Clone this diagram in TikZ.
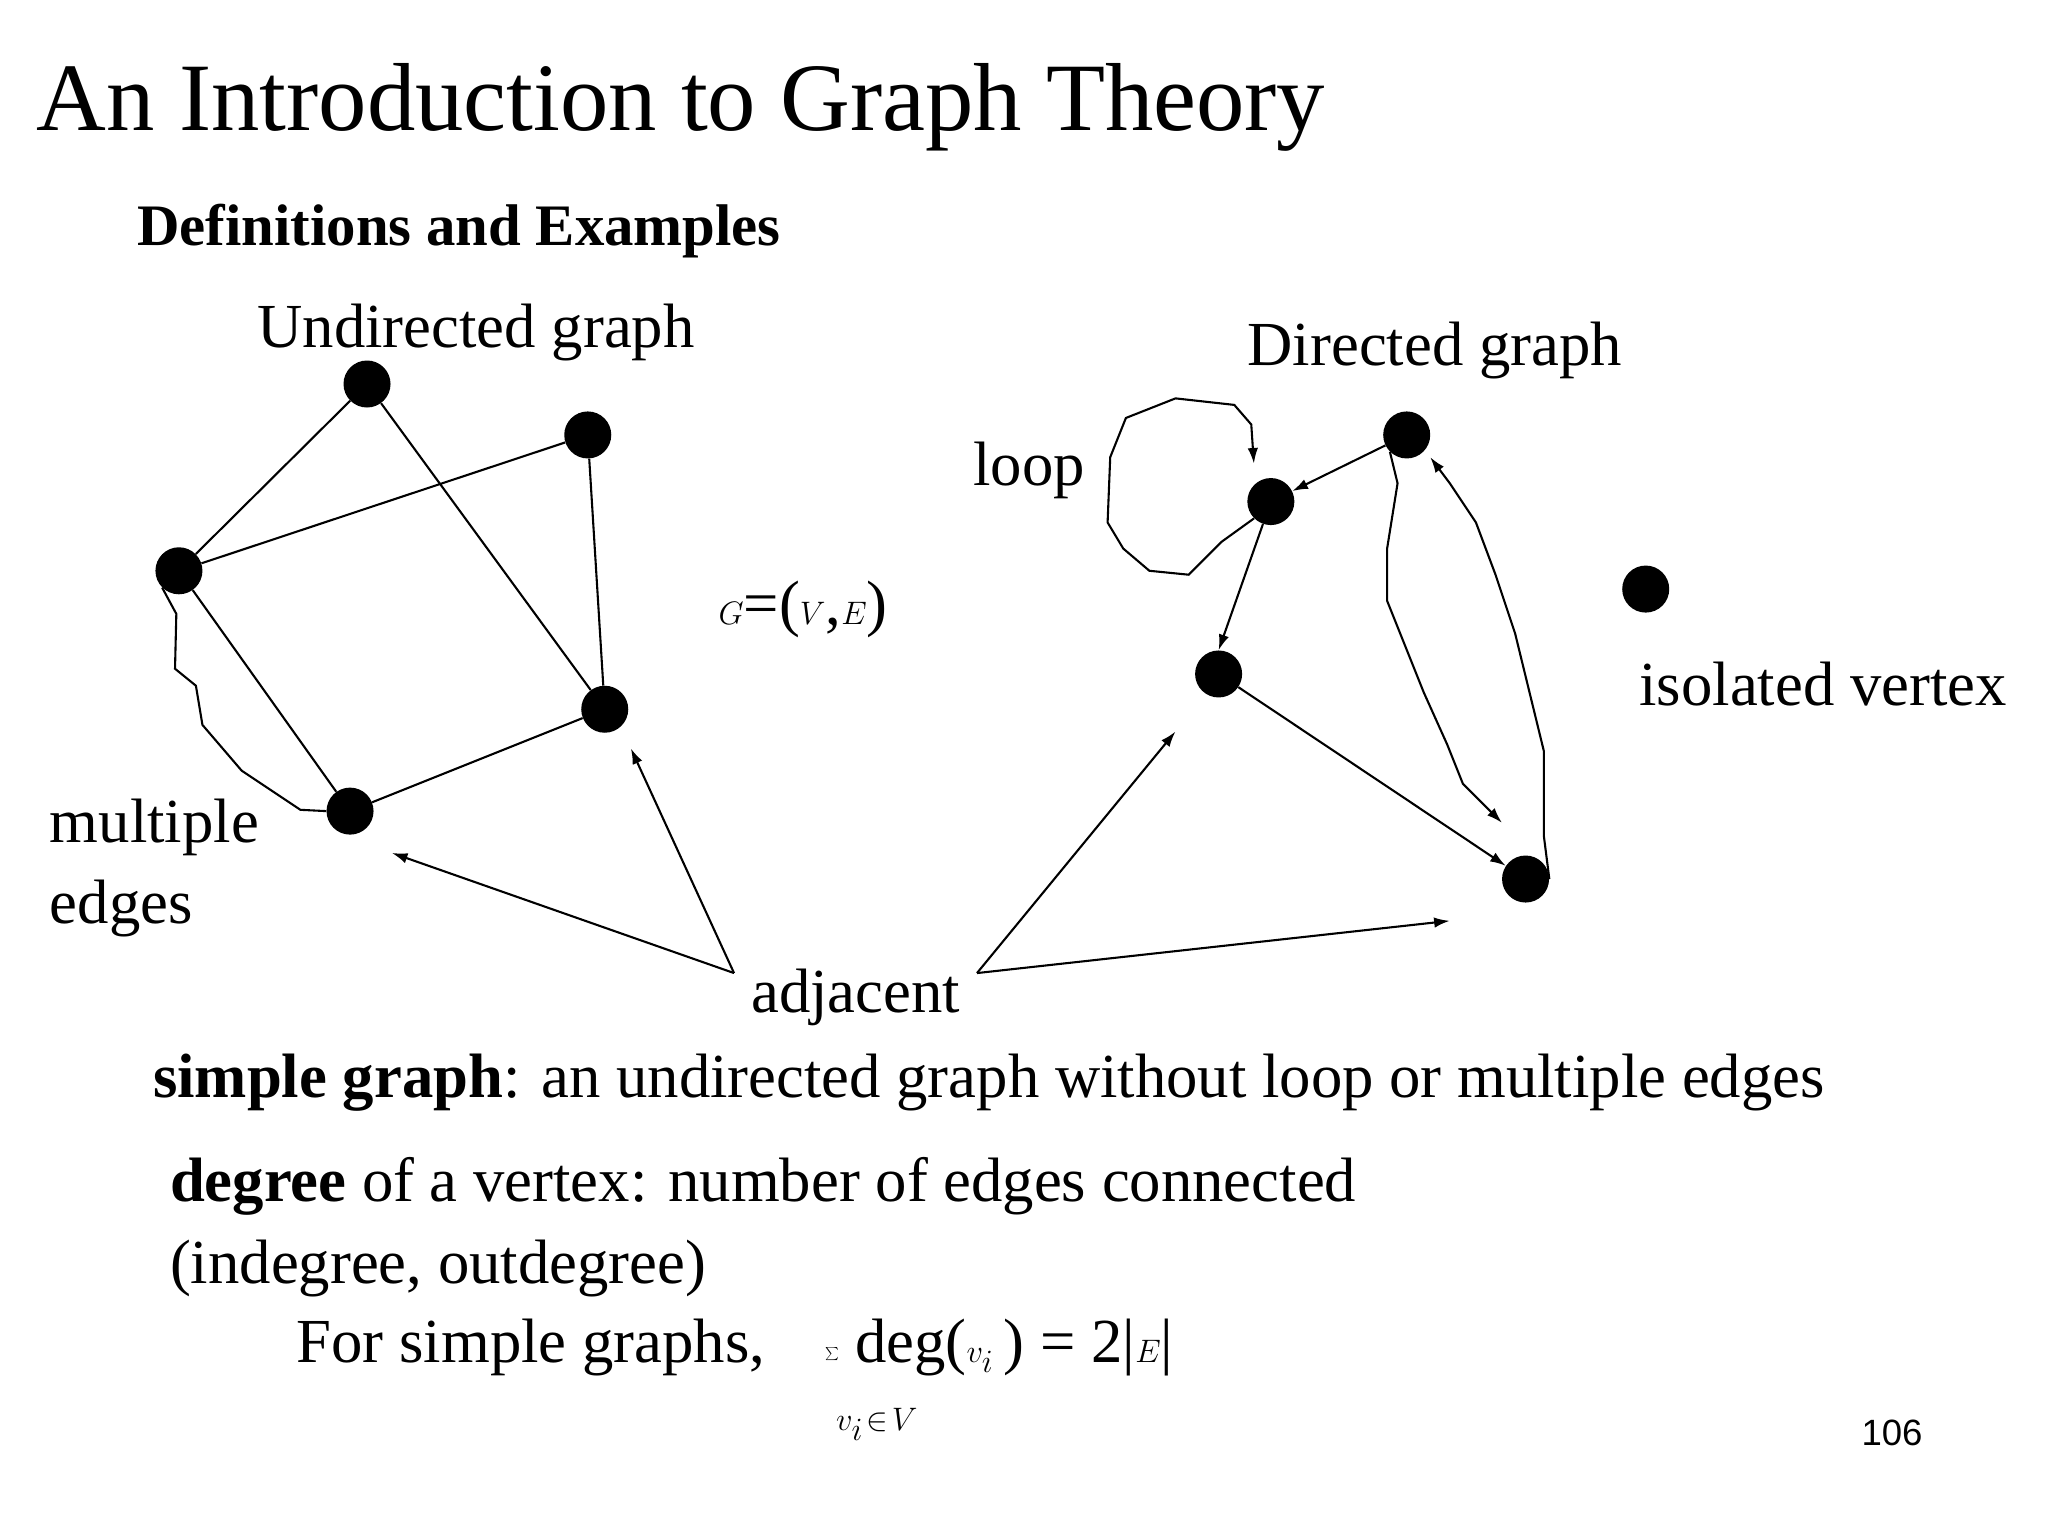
\documentclass[tikz,border=0pt]{standalone}
\usepackage{fontspec}
\setmainfont{Liberation Serif}
\newfontfamily\sansf{Liberation Sans}
\usetikzlibrary{arrows.meta}
\begin{document}
\begin{tikzpicture}[x=1pt,y=-1pt,
  v/.style={circle,fill=black,minimum size=36pt,inner sep=0pt},
  txt/.style={anchor=base west,inner sep=0pt,font=\fontsize{48}{58}\selectfont},
  e/.style={line width=1.6pt},
  a/.style={line width=1.6pt,-{Latex[length=12pt,width=8pt]}}]
\useasboundingbox (0,0) rectangle (1568,1176);
\node[txt,font=\fontsize{74}{80}\selectfont] (title) at (28,100) {An Introduction to Graph Theory};
\node[txt,font=\fontsize{45}{50}\selectfont\bfseries] (defs) at (105,188) {Definitions and Examples};
\node[txt] (ug) at (197,266) {Undirected graph};
\node[txt] (dg) at (955,280) {Directed graph};
\node[txt] (loop) at (745,372) {loop};
\node[txt] (gve) at (550,478) {$G$=($V$,$E$)};
\node[txt] (iso) at (1255,540) {isolated vertex};
\node[txt] (mul) at (38,645) {multiple};
\node[txt] (edg) at (38,707) {edges};
\node[txt] (adj) at (575,775) {adjacent};
\node[txt] (simple) at (117,840) {\textbf{simple graph}: an undirected graph without loop or multiple edges};
\node[txt] (deg) at (130,920) {\textbf{degree} of a vertex: number of edges connected};
\node[txt] (indeg) at (130,983) {(indegree, outdegree)};
\node[txt] (forsim) at (227,1043) {For simple graphs,};
\node[anchor=base west,inner sep=0pt,font=\fontsize{48}{58}\selectfont] (form) at (632,1043) {$\textstyle\sum$ deg($v_i$\,) = 2|$E$|};
\node[anchor=base west,inner sep=0pt,font=\fontsize{34}{40}\selectfont] (sub) at (640,1095) {$v_i\!\in\! V$};
\node[anchor=base west,inner sep=0pt,font=\fontsize{28}{32}\selectfont\sansf] (pg) at (1425,1107) {106};
% undirected
\node[v] (u1) at (281,294) {};
\node[v] (u2) at (450,333) {};
\node[v] (u3) at (137,437) {};
\node[v] (u4) at (463,543) {};
\node[v] (u5) at (268,621) {};
\draw[e] (u3)--(u1) (u1)--(u4) (u3)--(u2) (u2)--(u4) (u3)--(u5) (u5)--(u4);
\draw[e] (u3.south west) -- (135,470) -- (134,512) -- (150,525) -- (155,555) -- (185,590) -- (230,620) -- (u5.west);
% directed
\node[v] (d1) at (1077,333) {};
\node[v] (d2) at (973,384) {};
\node[v] (d3) at (933,516) {};
\node[v] (d4) at (1168,673) {};
\node[v] (d5) at (1260,451) {};
\draw[a] (d1)--(d2);
\draw[a] (d2)--(d3.north);
\draw[a] (d3)--(d4);
\draw[a] (d1.south west) -- (1070,370) -- (1062,420) -- (1062,460) -- (1078,500) -- (1090,530) -- (1108,570) -- (1120,600) -- (1150,630);
\draw[a] (d4.east) -- (1182,640) -- (1182,575) -- (1160,485) -- (1145,440) -- (1130,400) -- (1110,370) -- (1095,350);
\draw[a] (d2.south west) -- (935,415) -- (910,440) -- (880,437) -- (860,420) -- (848,400) -- (850,350) -- (862,320) -- (900,305) -- (945,310) -- (958,325) -- (960,355);
% adjacent arrows
\coordinate (al) at (562,745);
\coordinate (ar) at (748,745);
\draw[a] (al) -- (300,653);
\draw[a] (al) -- (483,573);
\draw[a] (ar) -- (900,560);
\draw[a] (ar) -- (1110,705);
\end{tikzpicture}
\end{document}
